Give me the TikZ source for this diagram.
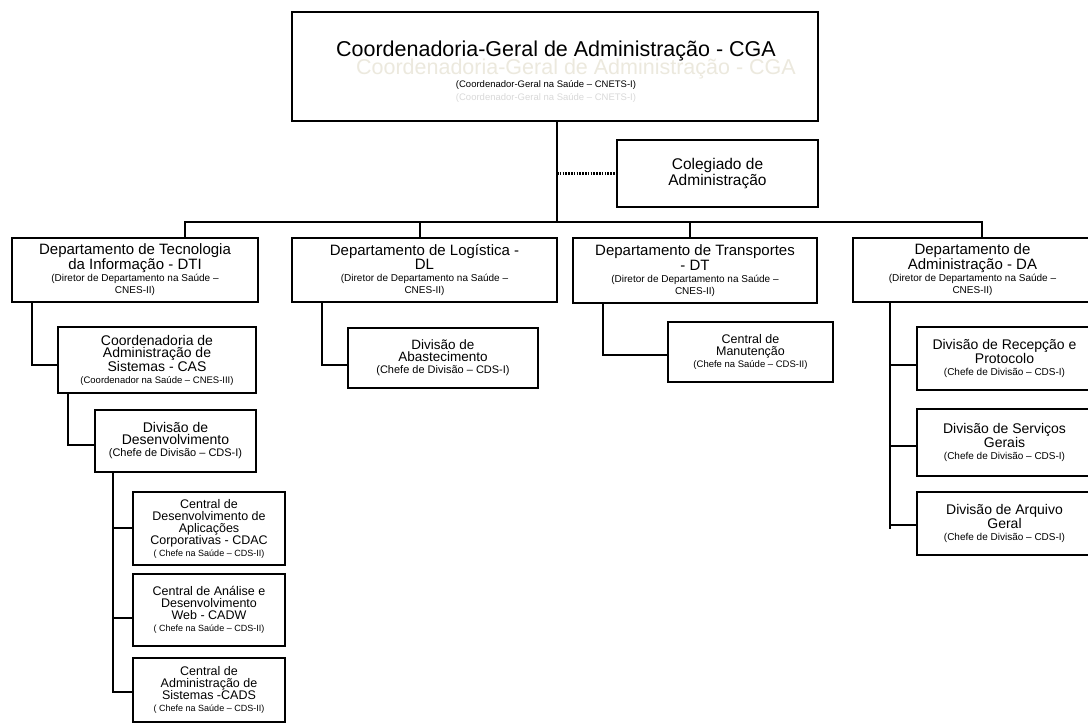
\documentclass[tikz,border=0pt]{standalone}
\usepackage{fontspec}
\setmainfont{Liberation Sans}
\newcommand\fs[1]{\fontsize{#1}{#1}\selectfont}
\newcommand\boxnode[6]{%
  \pgfmathsetmacro\bw{#4-#2}\pgfmathsetmacro\bh{#5-#3}%
  \pgfmathsetmacro\bx{(#2+#4)/2}\pgfmathsetmacro\by{(#3+#5)/2}%
  \node[obox,minimum width=\bw pt,minimum height=\bh pt] (#1) at (\bx,\by) {#6};}
\definecolor{ghostA}{HTML}{ECE9DE}
\definecolor{ghostB}{HTML}{D9D9D9}
\begin{document}
\begin{tikzpicture}[x=1pt,y=-1pt,
  obox/.style={draw=black,line width=2pt,fill=white,inner sep=0pt,align=center},
  conn/.style={draw=black,line width=2pt,line cap=rect},
  dotconn/.style={draw=black,line width=3pt,dash pattern=on 1.6pt off 1.2pt}]
\useasboundingbox (0,0) rectangle (1088,727);
% top box
\boxnode{cga}{292}{12}{818}{121}{}
\node[text=ghostA,font=\fs{21.5}] (ghostT) at (576,69) {Coordenadoria-Geral de Administração - CGA};
\node[text=ghostB,font=\fs{9.5}] (ghostS) at (546,98) {(Coordenador-Geral na Saúde – CNETS-I)};
\node[font=\fs{21.5}] (cgaT) at (556,51) {Coordenadoria-Geral de Administração - CGA};
\node[font=\fs{9.5}] (cgaS) at (546,85) {(Coordenador-Geral na Saúde – CNETS-I)};
% colegiado
\boxnode{col}{617}{140}{818}{207}{\fs{15.5}Colegiado de\\\fs{15.5}Administração}
% connectors top
\coordinate (bus) at (557,222);
\coordinate (busL) at (185,222);
\coordinate (busR) at (982,222);
\coordinate (dlx) at (420,222);
\coordinate (dtx) at (690,222);
\draw[conn] (cga.south -| bus) -- (bus);
\draw[dotconn] (bus |- col.west) -- (col.west);
\draw[conn] (busL) -- (busR);
% departments
\boxnode{dti}{12}{238}{258}{302}{\fs{15}Departamento de Tecnologia\\\fs{15}da Informação - DTI\\\fs{10}(Diretor de Departamento na Saúde –\\\fs{10}CNES-II)}
\boxnode{dl}{292}{238}{557}{302}{\fs{15}Departamento de Logística -\\\fs{15}DL\\\fs{10}(Diretor de Departamento na Saúde –\\\fs{10}CNES-II)}
\boxnode{dt}{573}{238}{817}{303}{\fs{15}Departamento de Transportes\\\fs{15}- DT\\\fs{10}(Diretor de Departamento na Saúde –\\\fs{10}CNES-II)}
\boxnode{da}{853}{238}{1092}{302}{\fs{15}Departamento de\\\fs{15}Administração - DA\\\fs{10}(Diretor de Departamento na Saúde –\\\fs{10}CNES-II)}
\draw[conn] (busL) -- (busL |- dti.north);
\draw[conn] (dlx) -- (dlx |- dl.north);
\draw[conn] (dtx) -- (dtx |- dt.north);
\draw[conn] (busR) -- (busR |- da.north);
% DTI branch
\boxnode{cas}{58}{327}{256}{393}{\fs{14}Coordenadoria de\\\fs{14}Administração de\\\fs{14}Sistemas - CAS\\\fs{9.5}(Coordenador na Saúde – CNES-III)}
\boxnode{desenv}{95}{410}{256}{472}{\fs{14}Divisão de\\\fs{14}Desenvolvimento\\\fs{11}(Chefe de Divisão – CDS-I)}
\boxnode{cdac}{133}{492}{285}{565}{\fs{12.5}Central de\\\fs{12.5}Desenvolvimento de\\\fs{12.5}Aplicações\\\fs{12.5}Corporativas - CDAC\\\fs{9}( Chefe na Saúde – CDS-II)}
\boxnode{cadw}{133}{574}{285}{646}{\fs{12.5}Central de Análise e\\\fs{12.5}Desenvolvimento\\\fs{12.5}Web - CADW\\\fs{9}( Chefe na Saúde – CDS-II)}
\boxnode{cads}{133}{658}{285}{722}{\fs{12.5}Central de\\\fs{12.5}Administração de\\\fs{12.5}Sistemas -CADS\\\fs{9}( Chefe na Saúde – CDS-II)}
\coordinate (k1) at (32,365);
\draw[conn] (k1 |- dti.south) -- (k1) -- (k1 -| cas.west);
\coordinate (k2) at (68,445);
\draw[conn] (k2 |- cas.south) -- (k2) -- (k2 -| desenv.west);
\coordinate (k3) at (113,528);
\coordinate (k4) at (113,618);
\coordinate (k5) at (113,692);
\draw[conn] (k3 |- desenv.south) -- (k5);
\draw[conn] (k3) -- (k3 -| cdac.west);
\draw[conn] (k4) -- (k4 -| cadw.west);
\draw[conn] (k5) -- (k5 -| cads.west);
% DL branch
\boxnode{abast}{348}{328}{538}{388}{\fs{13.5}Divisão de\\\fs{13.5}Abastecimento\\\fs{11}(Chefe de Divisão – CDS-I)}
\coordinate (k6) at (322,365);
\draw[conn] (k6 |- dl.south) -- (k6) -- (k6 -| abast.west);
% DT branch
\boxnode{manut}{668}{322}{833}{382}{\fs{12.5}Central de\\\fs{12.5}Manutenção\\\fs{9.5}(Chefe na Saúde – CDS-II)}
\coordinate (k7) at (603,355);
\draw[conn] (k7 |- dt.south) -- (k7) -- (k7 -| manut.west);
% DA branch
\boxnode{drp}{917}{327}{1092}{390}{\fs{14}Divisão de Recepção e\\\fs{14}Protocolo\\\fs{10}(Chefe de Divisão – CDS-I)}
\boxnode{serv}{917}{409}{1092}{476}{\fs{14}Divisão de Serviços\\\fs{14}Gerais\\\fs{10}(Chefe de Divisão – CDS-I)}
\boxnode{arq}{917}{492}{1092}{555}{\fs{14}Divisão de Arquivo\\\fs{14}Geral\\\fs{10}(Chefe de Divisão – CDS-I)}
\coordinate (k8) at (890,365);
\coordinate (k9) at (890,446);
\coordinate (k10) at (890,525);
\coordinate (k11) at (890,528);
\draw[conn] (k8 |- da.south) -- (k11);
\draw[conn] (k8) -- (k8 -| drp.west);
\draw[conn] (k9) -- (k9 -| serv.west);
\draw[conn] (k10) -- (k10 -| arq.west);
\end{tikzpicture}
\end{document}
